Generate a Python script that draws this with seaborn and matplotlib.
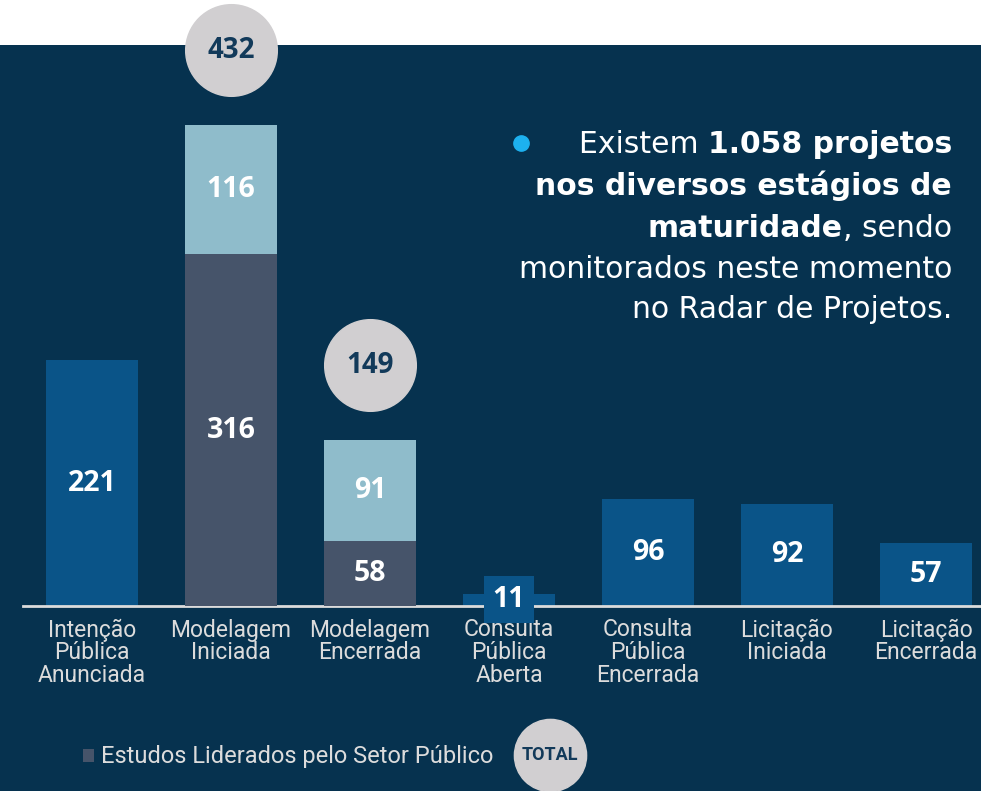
import matplotlib
matplotlib.use("Agg")
import matplotlib.pyplot as plt
import seaborn as sns
import pandas as pd
from matplotlib.patches import Rectangle, Patch
from matplotlib.lines import Line2D
from matplotlib.transforms import offset_copy

# dados
etapas = ["Intenção\nPública\nAnunciada", "Modelagem\nIniciada", "Modelagem\nEncerrada",
          "Consulta\nPública\nAberta", "Consulta\nPública\nEncerrada",
          "Licitação\nIniciada", "Licitação\nEncerrada"]
totais = [221, 432, 149, 11, 96, 92, 57]
setor_publico = [None, 316, 58, None, None, None, None]
legenda_publico = "Estudos Liderados pelo Setor Público"

# cores
BG = "#06324f"
AZUL = "#0a5488"
CINZA = "#46546a"
CLARO = "#8fbccb"
CIRCULO = "#d1cfd1"
TXT_CIRC = "#123a5a"
TXT = "#dcdcdc"

W, H = 981, 791

def fx(px):
    return px / W

def fy(py):
    return 1 - py / H

sns.set_theme(style="white")
plt.rcParams["font.family"] = ["Roboto", "DejaVu Sans"]

df = pd.DataFrame({"etapa": etapas, "total": totais, "publico": setor_publico})
cores_topo = {e: (CLARO if p is not None else AZUL) for e, p in zip(etapas, setor_publico)}

fig = plt.figure(figsize=(W / 100, H / 100), dpi=100, facecolor=BG)
fig.add_artist(Rectangle((0, fy(45)), 1, 45 / H, transform=fig.transFigure,
                         facecolor="white", edgecolor="none", zorder=-1))

# eixo: base em y=606px, 1.113 px por unidade
escala = 1.113
ymax = 540
base = 606
ax = fig.add_axes([fx(22.5), (H - base) / H, 973 / W, ymax * escala / H])
ax.set_facecolor("none")

sns.barplot(data=df, x="etapa", y="total", hue="etapa", palette=cores_topo,
            order=etapas, width=0.66, legend=False, saturation=1, ax=ax, zorder=2,
            linewidth=0, edgecolor="none")
df_pub = df.dropna(subset=["publico"])
sns.barplot(data=df_pub, x="etapa", y="publico", order=etapas, color=CINZA,
            width=0.66, saturation=1, ax=ax, zorder=3, linewidth=0, edgecolor="none")

ax.set_xlim(-0.5, len(etapas) - 0.5)
ax.set_ylim(0, ymax)
ax.set_xlabel("")
ax.set_ylabel("")
ax.set_yticks([])
for s in ["top", "left", "right"]:
    ax.spines[s].set_visible(False)
ax.spines["bottom"].set_color(TXT)
ax.spines["bottom"].set_linewidth(2)
ax.set_xticks(range(len(etapas)))
ax.set_xticklabels(etapas, fontsize=16.5, color=TXT, linespacing=0.98)
ax.tick_params(axis="x", which="major", length=0, pad=9)
ax.set_xticks([i - 0.5 for i in range(len(etapas) + 1)], minor=True)
ax.tick_params(axis="x", which="minor", length=5, width=2, color=TXT, direction="out")

# rótulos de valores
rot = dict(color="white", fontsize=20.5, fontweight="bold", family="Open Sans",
           ha="center", va="center", zorder=6)
for i, (t, p) in enumerate(zip(totais, setor_publico)):
    if p is None:
        kw = dict(rot)
        if t < 30:
            kw["bbox"] = dict(boxstyle="square,pad=0.32", fc=AZUL, ec="none")
        ax.text(i, t / 2, str(t), **kw)
    else:
        ax.text(i, p / 2, str(p), **rot)
        ax.text(i, (p + t) / 2, str(t - p), **rot)
        tr = offset_copy(ax.transData, fig=fig, y=54, units="points")
        ax.plot([i], [t], "o", ms=66, color=CIRCULO, transform=tr, clip_on=False, zorder=5)
        ax.text(i, t, str(t), transform=tr, color=TXT_CIRC, fontsize=20,
                fontweight="bold", family="Open Sans", ha="center", va="center", zorder=6)

# legenda
fig.legend(handles=[Patch(facecolor=CINZA, edgecolor="none")], labels=[legenda_publico],
           loc="center left", bbox_to_anchor=(fx(83), fy(757)), frameon=False,
           fontsize=17, labelcolor=TXT, handlelength=0.48, handleheight=0.48,
           handletextpad=0.3, borderpad=0, borderaxespad=0)
fig.add_artist(Line2D([fx(550)], [fy(755)], marker="o", ms=52, color=CIRCULO,
                      transform=fig.transFigure))
fig.text(fx(550), fy(755), "TOTAL", ha="center", va="center", fontsize=13,
         fontweight="bold", color=TXT_CIRC)

# texto de destaque
renderer = fig.canvas.get_renderer()
fs = 21.5
fam = "DejaVu Sans"
xr = 952

def linha(partes, py):
    x = fx(xr)
    for txt, peso in reversed(partes):
        t = fig.text(x, fy(py), txt, ha="right", va="baseline", fontsize=fs,
                     fontweight=peso, family=fam, color="white")
        bb = t.get_window_extent(renderer)
        x = bb.x0 / W

linha([("Existem ", "normal"), ("1.058 projetos", "bold")], 153)
linha([("nos diversos estágios de", "bold")], 195)
linha([("maturidade", "bold"), (", sendo", "normal")], 237)
linha([("monitorados neste momento", "normal")], 278)
linha([("no Radar de Projetos.", "normal")], 318)
fig.add_artist(Line2D([fx(521)], [fy(143)], marker="o", ms=11, color="#1db1ef",
                      transform=fig.transFigure))

fig.savefig("out.png", dpi=100, facecolor=BG)
